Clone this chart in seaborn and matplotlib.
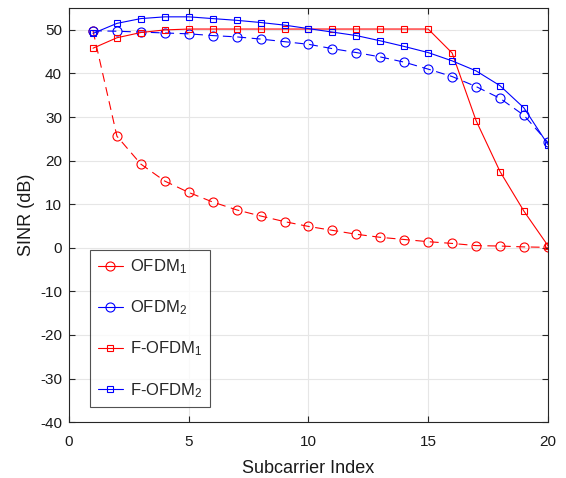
import numpy as np
import pandas as pd
import matplotlib
matplotlib.use("Agg")
import matplotlib.pyplot as plt
import seaborn as sns

# Values
subcarrier = list(range(1, 21))
ofdm_1 = [49.8, 25.6, 19.2, 15.3, 12.7, 10.5, 8.7, 7.3, 6.0, 4.9,
          4.0, 3.1, 2.4, 1.9, 1.4, 1.0, 0.5, 0.4, 0.2, 0.1]
ofdm_2 = [49.8, 49.7, 49.5, 49.3, 49.1, 48.7, 48.4, 47.9, 47.3, 46.7,
          45.7, 44.8, 43.8, 42.6, 41.0, 39.3, 37.0, 34.3, 30.4, 24.2]
f_ofdm_1 = [45.8, 48.2, 49.4, 50.0, 50.2, 50.2, 50.2, 50.2, 50.2, 50.2,
            50.2, 50.2, 50.2, 50.2, 50.2, 44.7, 29.2, 17.5, 8.4, 0.5]
f_ofdm_2 = [49.2, 51.5, 52.6, 53.0, 53.0, 52.6, 52.2, 51.7, 51.1, 50.3,
            49.5, 48.7, 47.5, 46.2, 44.8, 42.9, 40.6, 37.2, 32.1, 23.7]
labels = [r"OFDM$_1$", r"OFDM$_2$", r"F-OFDM$_1$", r"F-OFDM$_2$"]
x_ticks = [0, 5, 10, 15, 20]
y_ticks = list(range(-40, 51, 10))

sns.set_theme(style="whitegrid")
plt.rcParams["font.family"] = ["Liberation Sans", "DejaVu Sans"]
plt.rcParams["mathtext.fontset"] = "custom"
plt.rcParams["mathtext.rm"] = "Liberation Sans"
plt.rcParams["mathtext.it"] = "Liberation Sans"
plt.rcParams["axes.unicode_minus"] = False

fig = plt.figure(figsize=(5.66, 4.78), dpi=100)
ax = fig.add_axes([0.122, 0.117, 0.846, 0.866])

series = [
    (ofdm_1, "#ff0000", "o", (0, (8, 5)), 6.5),
    (ofdm_2, "#0000ff", "o", (0, (8, 5)), 6.5),
    (f_ofdm_1, "#ff0000", "s", "-", 5),
    (f_ofdm_2, "#0000ff", "s", "-", 5),
]
for (vals, col, mk, ls, ms), lab in zip(series, labels):
    df = pd.DataFrame({"x": subcarrier, "y": vals})
    sns.lineplot(data=df, x="x", y="y", ax=ax, color=col, marker=mk,
                 linestyle=ls, linewidth=0.8, markersize=ms,
                 markerfacecolor="none", markeredgecolor=col,
                 markeredgewidth=0.8, label=lab)

ax.set_xlim(0, 20)
ax.set_ylim(-40, 55)
ax.set_xticks(x_ticks)
ax.set_yticks(y_ticks)
ax.set_facecolor("white")
ax.grid(True, color="#e6e6e6", linewidth=0.8)
for sp in ax.spines.values():
    sp.set_color("#262626")
    sp.set_linewidth(0.8)
ax.tick_params(axis="both", direction="in", length=4, width=0.8,
               colors="#262626", labelsize=11, labelcolor="#1a1a1a",
               top=True, right=True, bottom=True, left=True)
ax.tick_params(axis="x", pad=9)
ax.tick_params(axis="y", pad=5)
ax.set_xlabel("Subcarrier Index", fontsize=13, color="#1a1a1a", labelpad=8)
ax.set_ylabel("SINR (dB)", fontsize=13, color="#1a1a1a", labelpad=4)

leg = ax.legend(loc="lower left", bbox_to_anchor=(0.044, 0.036),
                fontsize=12, frameon=True, fancybox=False,
                borderpad=0.45, labelspacing=1.35, handlelength=1.5,
                handletextpad=0.45, borderaxespad=0)
leg.get_frame().set_edgecolor("#262626")
leg.get_frame().set_linewidth(0.8)
for h in leg.get_lines():
    h.set_linestyle("-")

fig.savefig("out.png", dpi=100)
